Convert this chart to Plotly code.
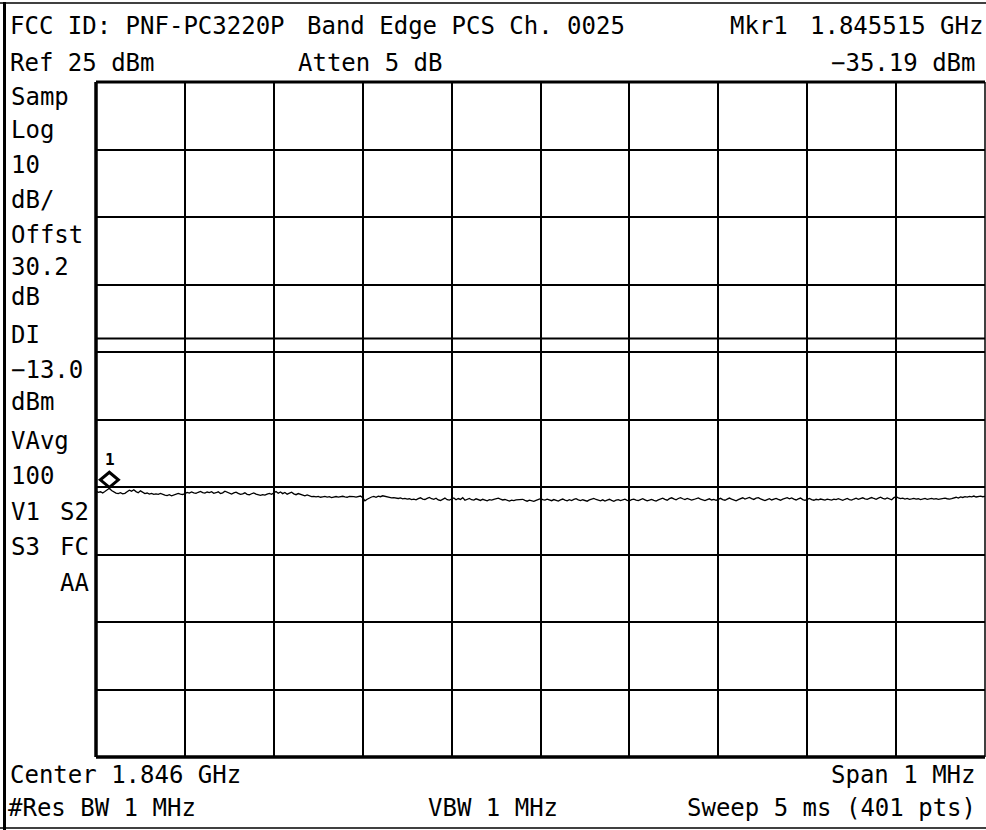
import numpy as np
import plotly.graph_objects as go

# ---------------- data ----------------
center_ghz = 1.846
span_mhz = 1.0
n_points = 401
ref_level_dbm = 25
db_per_div = 10
atten_db = 5
offset_db = 30.2
display_line_dbm = -13.0
vavg = 100
rbw_mhz = 1
vbw_mhz = 1
sweep_ms = 5
marker_freq_ghz = 1.845515
marker_level_dbm = -35.19

trace_dbm = [
    -35.62, -35.80, -35.71, -35.88, -35.66, -35.45, -35.19, -35.52, -35.78, -35.90,
    -35.97, -35.84, -36.02, -35.93, -35.70, -35.48, -35.62, -35.41, -35.68, -35.85,
    -35.57, -35.76, -35.98, -35.89, -36.05, -35.94, -36.10, -36.02, -36.08, -35.96,
    -36.12, -36.20, -36.28, -36.15, -36.30, -36.22, -36.09, -35.95, -36.04, -36.11,
    -35.98, -35.80, -35.91, -35.72, -35.86, -35.95, -35.78, -35.66, -35.84, -35.90,
    -35.74, -35.82, -35.69, -35.93, -35.85, -35.71, -35.98, -35.87, -35.63, -35.79,
    -35.92, -36.04, -35.88, -35.76, -35.95, -36.10, -36.02, -35.86, -36.08, -36.15,
    -36.00, -35.87, -36.06, -36.18, -36.24, -36.12, -36.20, -36.05, -35.96, -36.08,
    -35.84, -35.66, -35.92, -35.74, -35.98, -35.81, -36.06, -35.90, -35.77, -36.02,
    -36.14, -35.97, -36.08, -36.22, -36.30, -36.18, -36.35, -36.42, -36.38, -36.47,
    -36.40, -36.52, -36.45, -36.38, -36.49, -36.44, -36.56, -36.48, -36.41, -36.50,
    -36.43, -36.37, -36.46, -36.52, -36.39, -36.47, -36.44, -36.51, -36.40, -36.34,
    -36.58, -37.05, -36.82, -36.62, -36.48, -36.40, -36.52, -36.35, -36.44, -36.30,
    -36.38, -36.46, -36.55, -36.61, -36.57, -36.66, -36.70, -36.62, -36.75, -36.68,
    -36.80, -36.74, -36.86, -36.79, -36.91, -36.72, -36.60, -36.78, -36.85, -36.69,
    -36.55, -36.74, -36.83, -36.66, -36.92, -37.00, -36.81, -36.64, -36.88, -36.95,
    -36.78, -36.62, -36.90, -36.71, -36.84, -36.58, -36.96, -36.80, -36.69, -36.88,
    -36.93, -36.75, -36.86, -36.99, -36.82, -36.90, -37.04, -36.88, -36.95, -36.83,
    -36.74, -36.66, -36.80, -36.92, -36.85, -36.97, -37.08, -36.94, -37.02, -36.90,
    -36.87, -36.95, -36.82, -36.99, -37.10, -36.96, -37.05, -37.12, -36.98, -36.86,
    -36.72, -36.88, -36.95, -36.80, -36.92, -37.03, -36.86, -36.97, -37.08, -36.90,
    -36.78, -36.94, -37.06, -36.88, -37.00, -36.84, -36.72, -36.91, -37.02, -36.89,
    -36.96, -37.10, -36.92, -36.79, -36.70, -36.85, -36.98, -37.05, -36.90, -37.08,
    -36.94, -36.82, -36.99, -37.11, -36.95, -36.87, -37.02, -36.90, -36.81, -36.97,
    -37.04, -36.88, -36.79, -36.93, -37.01, -36.86, -36.74, -36.90, -37.06, -36.95,
    -36.83, -36.97, -37.09, -36.92, -36.78, -36.66, -36.84, -36.95, -36.72, -36.60,
    -36.77, -36.89, -36.70, -36.58, -36.74, -36.86, -36.68, -36.80, -36.93, -36.85,
    -36.71, -36.62, -36.79, -36.90, -37.02, -36.88, -36.75, -36.92, -36.84, -36.97,
    -36.82, -36.68, -36.86, -36.96, -36.80, -36.64, -36.79, -36.92, -37.05, -36.87,
    -36.74, -36.60, -36.78, -36.70, -36.55, -36.72, -36.84, -36.66, -36.58, -36.76,
    -36.90, -37.02, -36.86, -36.74, -36.92, -36.80, -36.68, -36.84, -36.96, -36.79,
    -36.66, -36.58, -36.74, -36.62, -36.80, -36.92, -36.76, -36.64, -36.86, -36.98,
    -36.84, -36.70, -36.88, -36.96, -36.82, -36.90, -36.78, -36.85, -36.93, -36.80,
    -36.88, -36.95, -36.79, -36.87, -36.74, -36.90, -36.98, -36.82, -36.70, -36.86,
    -36.94, -36.78, -36.66, -36.82, -36.72, -36.60, -36.75, -36.84, -36.68, -36.56,
    -36.70, -36.82, -36.64, -36.52, -36.68, -36.80, -36.62, -36.74, -36.90, -36.58,
    -36.44, -36.60, -36.72, -36.64, -36.78, -36.70, -36.82, -36.76, -36.68, -36.80,
    -36.74, -36.86, -36.78, -36.70, -36.82, -36.76, -36.69, -36.80, -36.73, -36.84,
    -36.77, -36.70, -36.66, -36.74, -36.80, -36.72, -36.60, -36.52, -36.64, -36.46,
    -36.55, -36.42, -36.50, -36.38, -36.46, -36.34, -36.48, -36.40, -36.36, -36.44, -36.38,
]

# ---------------- geometry ----------------
W, H = 986, 830
PL, PR, PT, PB = 96, 985, 82, 757
FONT = "DejaVu Sans Mono"
FS = 24

def px(x):
    return x / W

def py(y):
    return 1 - y / H

center_mhz = center_ghz * 1000
f_start = center_mhz - span_mhz / 2
f_stop = center_mhz + span_mhz / 2
freqs = np.linspace(f_start, f_stop, n_points)

fig = go.Figure()
fig.add_trace(go.Scatter(
    x=freqs, y=trace_dbm, mode="lines",
    line=dict(color="black", width=1.3), hoverinfo="skip",
))

fig.update_layout(
    width=W, height=H, margin=dict(l=0, r=0, t=0, b=0),
    paper_bgcolor="white", plot_bgcolor="white", showlegend=False,
    xaxis=dict(domain=[px(PL), px(PR)], range=[f_start, f_stop],
               tick0=f_start, dtick=span_mhz / 10, showgrid=True,
               gridcolor="black", gridwidth=2, showticklabels=False,
               ticks="", zeroline=False, showline=False, fixedrange=True),
    yaxis=dict(domain=[py(PB), py(PT)],
               range=[ref_level_dbm - 10 * db_per_div, ref_level_dbm],
               tick0=ref_level_dbm, dtick=db_per_div, showgrid=True,
               gridcolor="black", gridwidth=2, showticklabels=False,
               ticks="", zeroline=False, showline=False, fixedrange=True),
)

shapes = []
def pline(x0, y0, x1, y1, w):
    shapes.append(dict(type="line", xref="paper", yref="paper",
                       x0=px(x0), y0=py(y0), x1=px(x1), y1=py(y1),
                       line=dict(color="black", width=w)))

# plot frame
pline(PL, PT, PR, PT, 3)
pline(PL, PB, PR, PB, 3.5)
pline(PL, PT, PL, PB, 3.5)
pline(PR, PT, PR, PB, 1.5)
# outer frame
pline(4.5, 2, 4.5, 830, 3)
pline(0, 3, W, 3, 1.5)
pline(0, 828, W, 828, 1.5)

# display line
shapes.append(dict(type="line", xref="paper", yref="y",
                   x0=px(PL), x1=px(PR), y0=display_line_dbm, y1=display_line_dbm,
                   line=dict(color="black", width=2)))

# marker diamond
shapes.append(dict(type="path", xref="x", yref="y",
                   xsizemode="pixel", ysizemode="pixel",
                   xanchor=marker_freq_ghz * 1000, yanchor=marker_level_dbm,
                   path="M 0 1 L 9 8.5 L 0 16 L -9 8.5 Z",
                   fillcolor="white", line=dict(color="black", width=3)))
fig.update_layout(shapes=shapes)

def txt(x, y, s, anchor="left", size=FS):
    fig.add_annotation(xref="paper", yref="paper", x=px(x), y=py(y),
                       text=s, showarrow=False, xanchor=anchor, yanchor="middle",
                       font=dict(family=FONT, size=size, color="black"))

# header
txt(8, 26, "FCC ID: PNF-PC3220P")
txt(305, 26, "Band Edge PCS Ch. 0025")
txt(728, 26, "Mkr1")
txt(985, 26, f"{marker_freq_ghz:.6f} GHz", anchor="right")
txt(8, 63, f"Ref {ref_level_dbm} dBm")
txt(296, 63, f"Atten {atten_db} dB")
txt(978, 63, f"\u2212{abs(marker_level_dbm):.2f} dBm", anchor="right")

# sidebar
side = [
    (97, "Samp"), (130, "Log"), (165, f"{db_per_div}"), (200, "dB/"),
    (235, "Offst"), (267, f"{offset_db}"), (297, "dB"), (335, "DI"),
    (370, f"\u2212{abs(display_line_dbm):.1f}"), (402, "dBm"), (441, "VAvg"),
    (476, f"{vavg}"), (512, "V1"), (547, "S3"),
]
for y, s in side:
    txt(9, y, s)
txt(91, 512, "S2", anchor="right")
txt(91, 547, "FC", anchor="right")
txt(91, 583, "AA", anchor="right")

# footer
txt(8, 775, f"Center {center_ghz:.3f} GHz")
txt(978, 775, f"Span {span_mhz:g} MHz", anchor="right")
txt(6, 808, f"#Res BW {rbw_mhz} MHz")
txt(426, 808, f"VBW {vbw_mhz} MHz")
txt(978, 808, f"Sweep {sweep_ms} ms ({n_points} pts)", anchor="right")

# marker label
fig.add_annotation(xref="x", yref="y", x=marker_freq_ghz * 1000, y=marker_level_dbm,
                   text="<b>1</b>", showarrow=False, yshift=29, xshift=1,
                   font=dict(family=FONT, size=16, color="black"))

fig.write_html("out.html",
               config={"displayModeBar": False},
               post_script="document.body.style.margin='0';"
                           "document.body.style.overflow='hidden';")
